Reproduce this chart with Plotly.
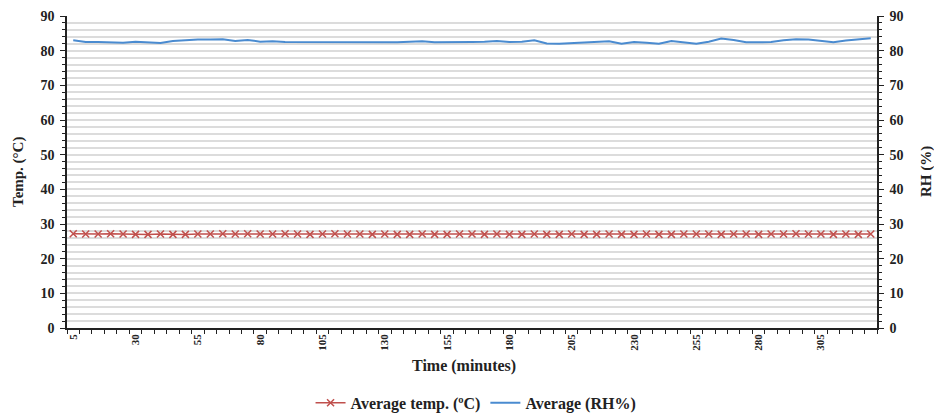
import plotly.graph_objects as go

time_min = list(range(5, 330, 5))  # 5..325
rh_avg = [83.0, 82.5, 82.5, 82.4, 82.3, 82.6, 82.3, 82.2, 82.8, 83.1,
          83.2, 83.2, 83.3, 82.8, 83.1, 82.6, 82.7, 82.5, 82.5, 82.4,
          82.3, 82.4, 82.5, 82.5, 82.4, 82.3, 82.4, 82.6, 82.7, 82.4,
          82.4, 82.3, 82.5, 82.6, 82.8, 82.5, 82.6, 83.0, 82.1, 82.0,
          82.2, 82.4, 82.7, 82.7, 82.0, 82.5, 82.3, 82.0, 82.8, 82.4,
          82.0, 82.6, 83.5, 83.1, 82.4, 82.4, 82.5, 83.0, 83.3, 83.2,
          82.7, 82.4, 82.9, 83.2, 83.6]
temp_avg = [27.2, 27.1, 27.1, 27.2, 27.1, 27.0, 27.0, 27.1, 27.0, 27.0,
            27.1, 27.1, 27.2, 27.1, 27.2, 27.1, 27.1, 27.2, 27.1, 27.0,
            27.1, 27.2, 27.1, 27.1, 27.0, 27.1, 27.0, 27.0, 27.1, 27.0,
            27.0, 27.1, 27.1, 27.0, 27.1, 27.0, 27.0, 27.1, 27.0, 27.0,
            27.1, 27.0, 27.0, 27.1, 27.0, 27.0, 27.1, 27.0, 27.0, 27.1,
            27.1, 27.1, 27.0, 27.1, 27.1, 27.0, 27.1, 27.1, 27.2, 27.1,
            27.1, 27.0, 27.1, 27.0, 27.1]
x_ticks = list(range(5, 310, 25))
y_ticks = list(range(0, 100, 10))

font_family = "Liberation Serif, Times New Roman, serif"

fig = go.Figure()
fig.add_trace(go.Scatter(
    x=time_min, y=temp_avg, name="<b>Average temp. (ºC)</b>", mode="lines+markers",
    line=dict(color="#c0504d", width=1.5),
    marker=dict(symbol="x-thin", size=7, line=dict(color="#c0504d", width=1.5)),
    yaxis="y"))
fig.add_trace(go.Scatter(
    x=time_min, y=rh_avg, name="<b>Average (RH%)</b>", mode="lines",
    line=dict(color="#4a8bd0", width=2), yaxis="y2"))

fig.update_layout(
    width=934, height=413,
    margin=dict(l=67, r=57, t=16, b=85, autoexpand=False),
    paper_bgcolor="white", plot_bgcolor="white",
    font=dict(family=font_family, size=13, color="#222"),
    showlegend=True,
    legend=dict(orientation="h", x=0.505, xanchor="center", y=-0.24, yanchor="middle",
                font=dict(family=font_family, size=16, color="#222"),
                itemwidth=30, tracegroupgap=0),
    xaxis=dict(
        range=[2.5, 327.5], tickmode="array", tickvals=x_ticks,
        ticktext=["<b>%d</b>" % v for v in x_ticks], tickangle=-90,
        ticks="", showgrid=False, zeroline=False,
        showline=True, linecolor="#222", linewidth=1.5,
        tickfont=dict(family=font_family, size=11, color="#222"),
        minor=dict(tick0=2.5, dtick=5, ticks="outside", ticklen=4, tickcolor="#222", tickwidth=1, showgrid=False),
    ),
    yaxis=dict(
        range=[0, 90], tickmode="array", tickvals=y_ticks,
        ticktext=["<b>%d</b>" % v for v in y_ticks],
        ticks="outside", ticklen=5, tickcolor="#222", ticklabelstandoff=3,
        showgrid=True, gridcolor="#dcdcdc", gridwidth=1.5, zeroline=False,
        showline=True, linecolor="#222", linewidth=1.5,
        tickfont=dict(family=font_family, size=14, color="#222"),
        minor=dict(dtick=2, ticks="outside", ticklen=3, tickcolor="#222",
                   showgrid=True, gridcolor="#dcdcdc", gridwidth=1.5),
    ),
    yaxis2=dict(
        range=[0, 90], tickmode="array", tickvals=y_ticks, overlaying="y", side="right",
        ticktext=["<b>%d</b>" % v for v in y_ticks],
        ticks="outside", ticklen=5, tickcolor="#222", ticklabelstandoff=3,
        showgrid=False, zeroline=False,
        showline=True, linecolor="#222", linewidth=1.5,
        tickfont=dict(family=font_family, size=14, color="#222"),
        minor=dict(dtick=2, ticks="outside", ticklen=3, tickcolor="#222", showgrid=False),
    ),
    annotations=[
        dict(text="<b>Time (minutes)</b>", xref="paper", yref="paper", x=0.49, y=-0.122,
             yanchor="middle", showarrow=False, font=dict(family=font_family, size=16, color="#222")),
        dict(text="<b>Temp. (°C)</b>", xref="paper", yref="paper", x=0, xanchor="center",
             y=0.5, showarrow=False, textangle=-90, xshift=-49,
             font=dict(family=font_family, size=15, color="#222")),
        dict(text="<b>RH (%)</b>", xref="paper", yref="paper", x=1.0, xanchor="center",
             y=0.5, showarrow=False, textangle=-90, xshift=49,
             font=dict(family=font_family, size=15, color="#222")),
    ],
)

fig.write_html("out.html")
